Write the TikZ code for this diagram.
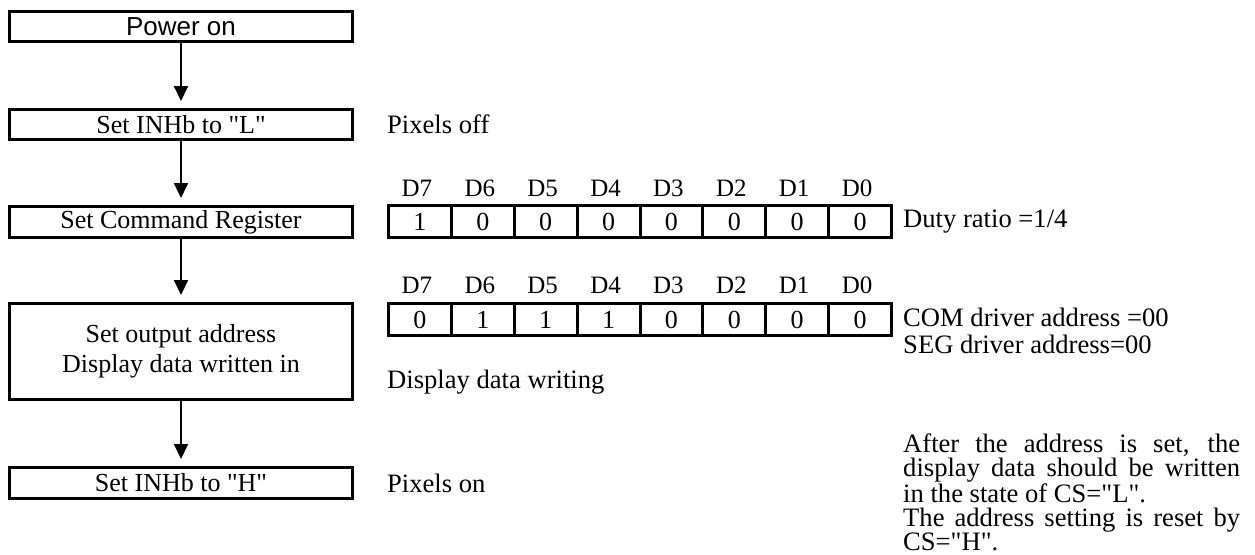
\documentclass[tikz,border=0pt]{standalone}
\usepackage{fontspec}
\setmainfont{Liberation Serif}[Ligatures=TeXOff]
\newfontfamily\arialfont{Liberation Sans}[Ligatures=TeXOff]
\usetikzlibrary{arrows.meta}
\newcommand{\txtsize}{\fontsize{26}{30}\selectfont}
\newcommand{\sidesize}{\fontsize{26.6}{30}\selectfont}
\begin{document}
\begin{tikzpicture}[x=1pt,y=-1pt,
  stepbox/.style={draw, line width=3pt, minimum width=343pt, inner sep=0pt, align=center, font=\txtsize},
  cell/.style={draw, line width=3pt, minimum width=62.875pt, minimum height=32pt, inner sep=0pt, font=\txtsize},
  bitlbl/.style={inner sep=0pt, font=\fontsize{25}{28}\selectfont},
  lbl/.style={inner sep=0pt, font=\sidesize},
  flow/.style={line width=2pt, -{Triangle[width=14pt,length=15pt]}, shorten >=7pt}]
\useasboundingbox (0,0) rectangle (1255,554);
% flow boxes
\node[stepbox, minimum height=30pt, font=\arialfont\txtsize] (b1) at (181,26.5) {Power on};
\node[stepbox, minimum height=30pt] (b2) at (181,124.5) {Set INHb to "L"};
\node[stepbox, minimum height=31pt] (b3) at (181,222) {Set Command Register};
\node[stepbox, minimum height=96pt] (b4) at (181,351.5) {Set output address\\Display data written in};
\node[stepbox, minimum height=31pt] (b5) at (181,483) {Set INHb to "H"};
\draw[flow] (b1.south) -- (b2.north);
\draw[flow] (b2.south) -- (b3.north);
\draw[flow] (b3.south) -- (b4.north);
\draw[flow] (b4.south) -- (b5.north);
% registers
\foreach \i/\v/\w [count=\k from 0] in {7/1/0,6/0/1,5/0/1,4/0/1,3/0/0,2/0/0,1/0/0,0/0/0}{
  \pgfmathsetmacro{\cx}{388.5+62.875*(\k+0.5)}
  \pgfmathsetmacro{\lx}{\cx-3}
  \node[bitlbl] (ha\i) at (\lx,188) {D\i};
  \node[cell] (ra\i) at (\cx,221.5) {\v};
  \node[bitlbl] (hb\i) at (\lx,285) {D\i};
  \node[cell] (rb\i) at (\cx,319.5) {\w};
}
% side texts
\node[lbl, anchor=west] (t1) at (387,124.5) {Pixels off};
\node[lbl, anchor=west] (t2) at (387,382) {Display data writing};
\node[lbl, anchor=west] (t3) at (387,483) {Pixels on};
\node[lbl, anchor=west] (t4) at (903,222) {Duty ratio =1/4};
\node[lbl, anchor=north west, align=left, font=\fontsize{26.6}{27}\selectfont] (t5) at (903,308) {COM driver address =00\\SEG driver address=00};
\node[lbl, anchor=north west, text width=337pt, align=justify, font=\fontsize{26.6}{24}\selectfont] (t6) at (903,434) {After the address is set, the\linebreak display data should be written\linebreak in the state of CS="L".\\The address setting is reset by\linebreak CS="H".};
\end{tikzpicture}
\end{document}
